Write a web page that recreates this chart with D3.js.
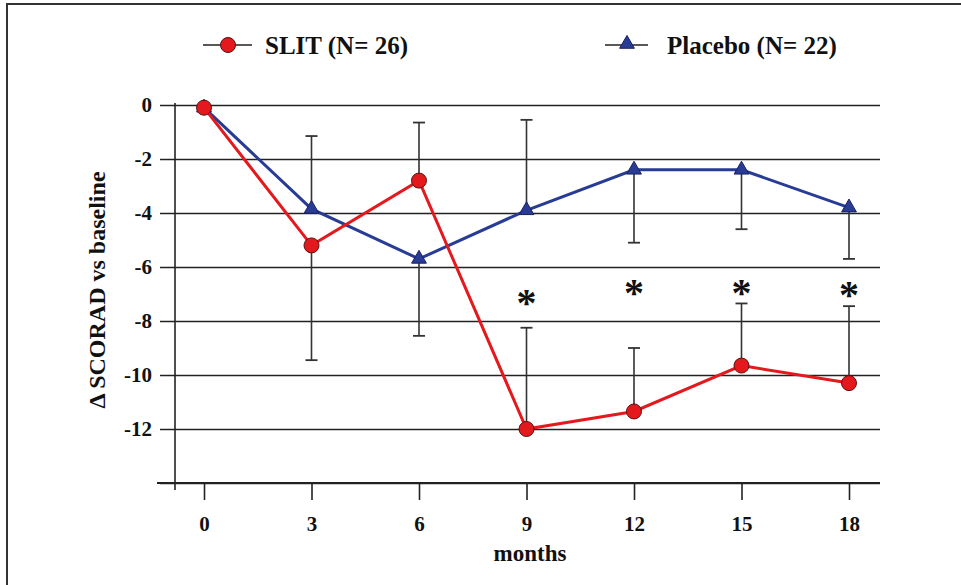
<!DOCTYPE html>
<html>
<head>
<meta charset="utf-8">
<script src="https://cdn.jsdelivr.net/npm/d3@7"></script>
<style>
  body { margin: 0; background: #fff; }
  svg { display: block; }
  text { font-family: "Liberation Serif", "Times New Roman", serif; font-weight: bold; fill: #111; }
</style>
</head>
<body>
<svg id="chart" width="961" height="585"></svg>
<script>
// ---- data ----
const months = [0, 3, 6, 9, 12, 15, 18];
const slitMean = [-0.1, -5.2, -2.8, -12.0, -11.35, -9.65, -10.3];
const slitErr = [0, 4.25, 2.15, 3.75, 2.35, 2.3, 2.85];
const slitErrDir = [0, -1, 1, 1, 1, 1, 1];
const placeboMean = [-0.1, -3.85, -5.7, -3.9, -2.4, -2.4, -3.8];
const placeboErr = [0, 2.7, 2.85, 3.35, 2.7, 2.2, 1.9];
const placeboErrDir = [0, 1, -1, 1, -1, -1, -1];
const starMonths = [9, 12, 15, 18];
const starLevel = [-7.1, -6.75, -6.75, -6.8];
const yTicks = [0, -2, -4, -6, -8, -10, -12, -14];
const yTickLabels = ["0", "-2", "-4", "-6", "-8", "-10", "-12", ""];
const seriesNames = ["SLIT (N= 26)", "Placebo (N= 22)"];
const yTitle = "Δ SCORAD vs baseline";
const xTitle = "months";

const red = "#e3191e", blue = "#283c96";

const svg = d3.select("#chart");

// frame
svg.append("path").attr("d", "M7,585 V4 H961")
  .attr("fill", "none").attr("stroke", "#333").attr("stroke-width", 2);

const x = d3.scaleLinear().domain([0, 18]).range([204, 849]);
const y = d3.scaleLinear().domain([0, -14]).range([105, 483]);

// y gridlines + labels
const gx0 = 160, gx1 = 880;
const yAxis = d3.axisLeft(y).tickValues(yTicks)
  .tickFormat((d, i) => yTickLabels[i])
  .tickSizeInner(-(gx1 - gx0)).tickSizeOuter(0).tickPadding(8);
const yg = svg.append("g").attr("transform", `translate(${gx0},0)`).call(yAxis);
yg.select(".domain").remove();
yg.selectAll(".tick line").attr("stroke", "#222").attr("stroke-width", 1.6);
yg.selectAll(".tick text").style("font-size", "21px").attr("fill", "#111")
  .style("font-family", '"Liberation Serif", serif').style("font-weight", "bold");

// y axis vertical line
svg.append("line").attr("x1", 175).attr("x2", 175).attr("y1", 103).attr("y2", 490)
  .attr("stroke", "#222").attr("stroke-width", 1.6);

// x axis
const xAxis = d3.axisBottom(x).tickValues(months).tickFormat(d3.format("d"))
  .tickSizeInner(17).tickSizeOuter(0).tickPadding(16);
const xg = svg.append("g").attr("transform", `translate(0,${y(-14)})`).call(xAxis);
xg.select(".domain").remove();
xg.selectAll(".tick line").attr("stroke", "#222").attr("stroke-width", 1.6);
xg.selectAll(".tick text").style("font-size", "21px").attr("fill", "#111")
  .style("font-family", '"Liberation Serif", serif').style("font-weight", "bold");
svg.append("line").attr("x1", 157).attr("x2", 880).attr("y1", y(-14)).attr("y2", y(-14))
  .attr("stroke", "#222").attr("stroke-width", 1.8);

// titles
svg.append("text").attr("x", 530).attr("y", 561).attr("text-anchor", "middle")
  .style("font-size", "23px").text(xTitle);
svg.append("text").attr("transform", "translate(105,290) rotate(-90)")
  .attr("text-anchor", "middle").style("font-size", "24px").text(yTitle);

// error bars
function errBars(means, errs, dirs) {
  const g = svg.append("g");
  months.forEach((m, i) => {
    if (!errs[i]) return;
    const y0 = y(means[i]), y1 = y(means[i] + dirs[i] * errs[i]);
    g.append("line").attr("x1", x(m)).attr("x2", x(m)).attr("y1", y0).attr("y2", y1)
      .attr("stroke", "#333").attr("stroke-width", 1.6);
    g.append("line").attr("x1", x(m) - 6).attr("x2", x(m) + 6).attr("y1", y1).attr("y2", y1)
      .attr("stroke", "#333").attr("stroke-width", 1.8);
  });
}
errBars(placeboMean, placeboErr, placeboErrDir);
errBars(slitMean, slitErr, slitErrDir);

// lines
const line = d3.line().x((d, i) => x(months[i])).y(d => y(d));
svg.append("path").datum(placeboMean).attr("d", line)
  .attr("fill", "none").attr("stroke", blue).attr("stroke-width", 3);
svg.append("path").datum(slitMean).attr("d", line)
  .attr("fill", "none").attr("stroke", red).attr("stroke-width", 3);

// markers
const tri = d3.symbol().type(d3.symbolTriangle).size(95);
svg.append("g").selectAll("path").data(placeboMean).join("path")
  .attr("d", tri)
  .attr("transform", (d, i) => `translate(${x(months[i])},${y(d)})`)
  .attr("fill", blue).attr("stroke", "#1a2060").attr("stroke-width", 1);
svg.append("g").selectAll("circle").data(slitMean).join("circle")
  .attr("cx", (d, i) => x(months[i])).attr("cy", d => y(d)).attr("r", 7.5)
  .attr("fill", red).attr("stroke", "#5a1010").attr("stroke-width", 1);

// significance stars
svg.append("g").selectAll("text").data(starMonths).join("text")
  .attr("x", d => x(d)).attr("y", (d, i) => y(starLevel[i]) + 19)
  .attr("text-anchor", "middle").style("font-size", "40px").text("*");

// legend
const lg = svg.append("g");
lg.append("line").attr("x1", 203).attr("x2", 252).attr("y1", 45).attr("y2", 45)
  .attr("stroke", "#222").attr("stroke-width", 1.6);
lg.append("circle").attr("cx", 228).attr("cy", 45).attr("r", 7.5)
  .attr("fill", red).attr("stroke", "#5a1010").attr("stroke-width", 1);
lg.append("text").attr("x", 265).attr("y", 54).style("font-size", "25px").text(seriesNames[0]);
lg.append("line").attr("x1", 605).attr("x2", 648).attr("y1", 45).attr("y2", 45)
  .attr("stroke", "#222").attr("stroke-width", 1.6);
lg.append("path").attr("d", tri).attr("transform", "translate(627,44)")
  .attr("fill", blue).attr("stroke", "#1a2060").attr("stroke-width", 1);
lg.append("text").attr("x", 667).attr("y", 54).style("font-size", "25px").text(seriesNames[1]);
</script>
</body>
</html>
